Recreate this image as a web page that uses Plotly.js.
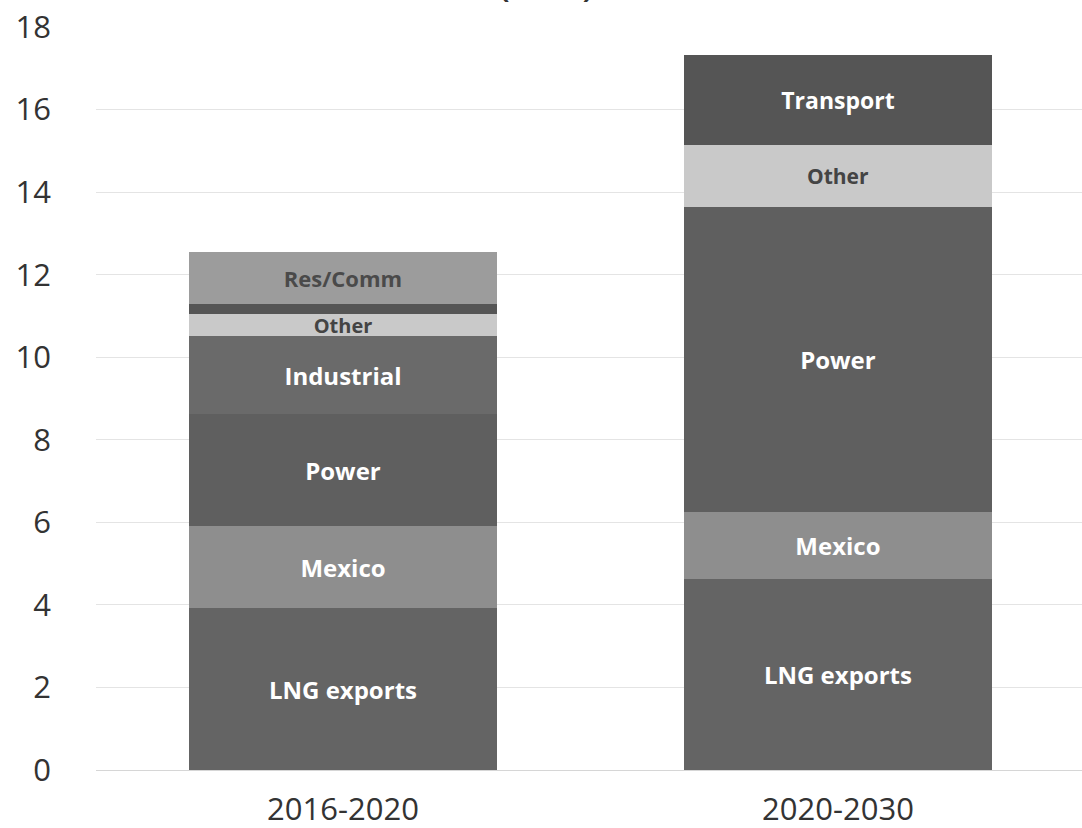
<!DOCTYPE html>
<html>
<head>
<meta charset="utf-8">
<script src="https://cdn.plot.ly/plotly-3.0.1.min.js"></script>
<style>html,body{margin:0;padding:0;background:#fff;}#chart{width:1082px;height:828px;}</style>
</head>
<body>
<div id="chart"></div>
<script>
// Data (Bcf/d)
const categories = ["2016-2020", "2020-2030"];
const seriesNames = ["LNG exports", "Mexico", "Power", "Industrial", "Other", "Transport", "Res/Comm"];
const lngExports = [3.92, 4.62];
const mexico     = [1.99, 1.63];
const power      = [2.71, 7.38];
const industrial = [1.89, 0];
const other      = [0.53, 1.50];
const transport  = [0.24, 2.18];
const resComm    = [1.26, 0];
const yTicks = [0, 2, 4, 6, 8, 10, 12, 14, 16, 18];
const unitLabel = "(Bcf/d)";

// Labels shown inside the segments
const lngText       = ["LNG exports", "LNG exports"];
const mexicoText    = ["Mexico", "Mexico"];
const powerText     = ["Power", "Power"];
const industrialText= ["Industrial", ""];
const otherText     = ["Other", "Other"];
const transportText = ["", "Transport"];
const resCommText   = ["Res/Comm", ""];

const FONT = "Open Sans, DejaVu Sans, sans-serif";

function seg(name, vals, txt, color, txtColor, txtSize) {
  return {
    type: "bar", name: name, x: categories, y: vals, text: txt,
    textposition: "inside", insidetextanchor: "middle", constraintext: "none",
    textfont: {family: FONT, size: txtSize, color: txtColor, weight: "bold"},
    marker: {color: color, line: {width: 0}},
    hoverinfo: "name+y", showlegend: false
  };
}

const data = [
  seg(seriesNames[0], lngExports, lngText, "#646464", "#ffffff", 24),
  seg(seriesNames[1], mexico, mexicoText, "#8e8e8e", "#ffffff", 24),
  seg(seriesNames[2], power, powerText, "#5f5f5f", "#ffffff", 24),
  seg(seriesNames[3], industrial, industrialText, "#6a6a6a", "#ffffff", 24),
  seg(seriesNames[4], other, otherText, "#c9c9c9", "#444444", [20, 21]),
  seg(seriesNames[5], transport, transportText, "#555555", "#ffffff", 23),
  seg(seriesNames[6], resComm, resCommText, "#9c9c9c", "#4a4a4a", 22)
];

const layout = {
  width: 1082, height: 828,
  margin: {l: 96, r: 0, t: 27, b: 58},
  paper_bgcolor: "#ffffff", plot_bgcolor: "#ffffff",
  barmode: "stack", bargap: 0.378,
  font: {family: FONT, color: "#333333"},
  xaxis: {
    type: "category", range: [-0.499, 1.493],
    showgrid: false, showline: false, zeroline: false, ticks: "",
    tickfont: {family: FONT, size: 31, color: "#333333"},
    ticklabelstandoff: 18
  },
  yaxis: {
    range: [0, 18], tickvals: yTicks, ticktext: yTicks.map(String),
    showgrid: true, gridcolor: "#e4e4e4", gridwidth: 1,
    zeroline: true, zerolinecolor: "#d6d6d6", zerolinewidth: 1,
    showline: false, ticks: "",
    tickfont: {family: FONT, size: 31, color: "#333333"},
    ticklabelstandoff: 44
  },
  annotations: [{
    text: unitLabel, xref: "paper", yref: "paper",
    x: 0.456, y: 1.0256, xanchor: "center", yanchor: "bottom",
    showarrow: false, font: {family: FONT, size: 28, color: "#333333", weight: "bold"}
  }]
};

Plotly.newPlot("chart", data, layout, {displayModeBar: false, staticPlot: true});
</script>
</body>
</html>
